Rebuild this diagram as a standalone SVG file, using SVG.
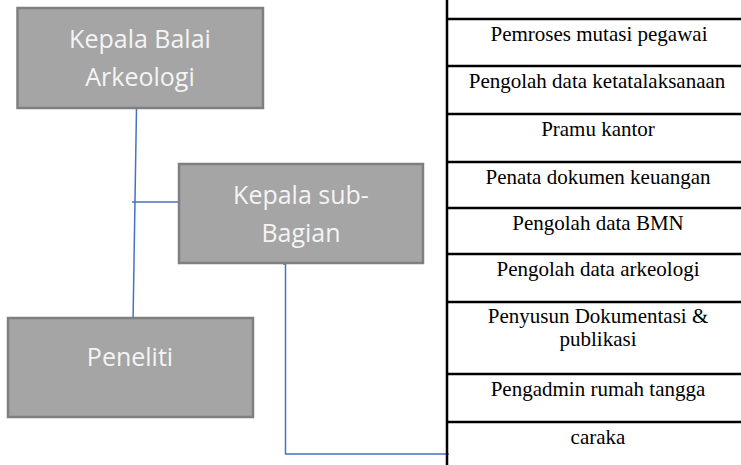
<svg xmlns="http://www.w3.org/2000/svg" width="741" height="465" viewBox="0 0 741 465">
  <style>
    .box { fill: #a5a5a5; stroke: #7f7f7f; stroke-width: 2.5; }
    .boxlabel { font-family: "Open Sans", "Noto Sans", sans-serif; font-size: 25px; fill: #f4f4f4; text-anchor: middle; }
    .link { fill: none; stroke: #4472c4; stroke-width: 1.5; }
    .rule { stroke: #000; stroke-width: 2.5; }
    .cell { font-family: "Liberation Serif", "Times New Roman", serif; font-size: 21px; fill: #000; text-anchor: middle; }
  </style>
  <rect width="741" height="465" fill="#fff"/>

  <!-- connectors -->
  <g id="connectors">
    <path class="link" d="M136.5,108 L133,323"/>
    <path class="link" d="M132,202 L179,202"/>
    <path class="link" d="M283,264 L285.5,264 L285.5,454 L449,454"/>
  </g>

  <!-- organisational boxes -->
  <g id="kepala-balai">
    <rect class="box" x="17.5" y="8" width="245.5" height="100"/>
    <text class="boxlabel" x="140" y="48">Kepala Balai</text>
    <text class="boxlabel" x="140" y="86">Arkeologi</text>
  </g>
  <g id="kepala-sub-bagian">
    <rect class="box" x="179" y="164" width="244" height="99"/>
    <text class="boxlabel" x="301" y="204">Kepala sub-</text>
    <text class="boxlabel" x="301" y="242">Bagian</text>
  </g>
  <g id="peneliti">
    <rect class="box" x="8" y="318" width="245" height="99"/>
    <text class="boxlabel" x="130" y="366">Peneliti</text>
  </g>

  <!-- staff table -->
  <g id="staff-table">
    <line class="rule" x1="447" y1="0" x2="447" y2="465"/>
    <line class="rule" x1="447" y1="19" x2="741" y2="19"/>
    <line class="rule" x1="447" y1="66" x2="741" y2="66"/>
    <line class="rule" x1="447" y1="114" x2="741" y2="114"/>
    <line class="rule" x1="447" y1="162" x2="741" y2="162"/>
    <line class="rule" x1="447" y1="208" x2="741" y2="208"/>
    <line class="rule" x1="447" y1="254" x2="741" y2="254"/>
    <line class="rule" x1="447" y1="302" x2="741" y2="302"/>
    <line class="rule" x1="447" y1="374" x2="741" y2="374"/>
    <line class="rule" x1="447" y1="422" x2="741" y2="422"/>

    <text class="cell" x="599" y="41">Pemroses mutasi pegawai</text>
    <text class="cell" x="597" y="88">Pengolah data ketatalaksanaan</text>
    <text class="cell" x="598" y="136">Pramu kantor</text>
    <text class="cell" x="598" y="184">Penata dokumen keuangan</text>
    <text class="cell" x="598" y="230">Pengolah data BMN</text>
    <text class="cell" x="598" y="276">Pengolah data arkeologi</text>
    <text class="cell" x="598" y="323">Penyusun Dokumentasi &amp;</text>
    <text class="cell" x="598" y="346">publikasi</text>
    <text class="cell" x="598" y="396">Pengadmin rumah tangga</text>
    <text class="cell" x="598" y="444">caraka</text>
  </g>
</svg>
